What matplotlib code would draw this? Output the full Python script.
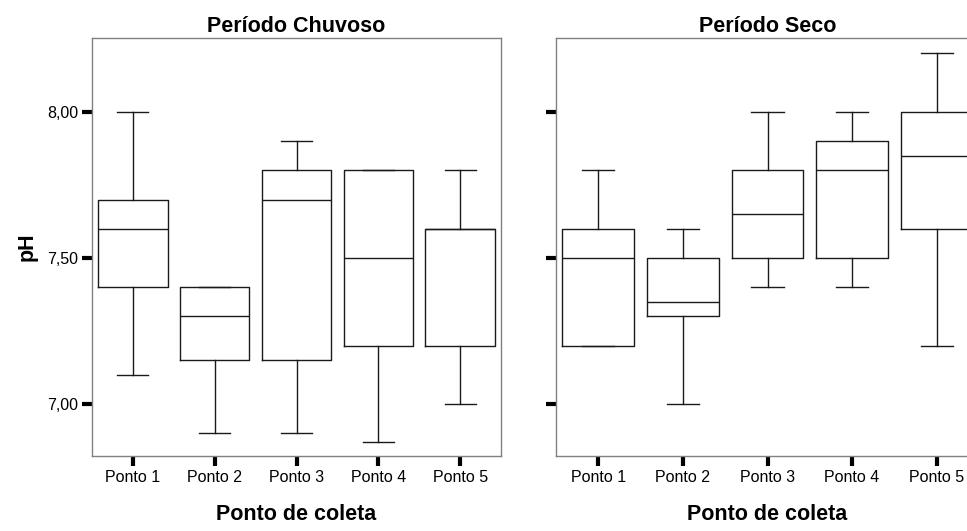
import matplotlib
matplotlib.use('Agg')
import matplotlib.pyplot as plt

plt.rcParams['font.family'] = ['Liberation Sans', 'DejaVu Sans']

# Data
pontos = ['Ponto 1', 'Ponto 2', 'Ponto 3', 'Ponto 4', 'Ponto 5']

# Periodo Chuvoso
chuv_whishi = [8.00, 7.40, 7.90, 7.80, 7.80]
chuv_q3 = [7.70, 7.40, 7.80, 7.80, 7.60]
chuv_med = [7.60, 7.30, 7.70, 7.50, 7.60]
chuv_q1 = [7.40, 7.15, 7.15, 7.20, 7.20]
chuv_whislo = [7.10, 6.90, 6.90, 6.87, 7.00]

# Periodo Seco
seco_whishi = [7.80, 7.60, 8.00, 8.00, 8.20]
seco_q3 = [7.60, 7.50, 7.80, 7.90, 8.00]
seco_med = [7.50, 7.35, 7.65, 7.80, 7.85]
seco_q1 = [7.20, 7.30, 7.50, 7.50, 7.60]
seco_whislo = [7.20, 7.00, 7.40, 7.40, 7.20]

yticks = [7.0, 7.5, 8.0]
yticklabels = ['7,00', '7,50', '8,00']


def make_stats(whislo, q1, med, q3, whishi):
    stats = []
    for i in range(len(med)):
        stats.append(dict(whislo=whislo[i], q1=q1[i], med=med[i],
                          q3=q3[i], whishi=whishi[i], fliers=[]))
    return stats


W, H = 967, 531
fig = plt.figure(figsize=(W/100, H/100), dpi=100)
ax1 = fig.add_axes([92/W, (H-456)/H, 409/W, 418/H])
ax2 = fig.add_axes([556/W, (H-456)/H, 423/W, 418/H])

line = dict(color='#1a1a1a', linewidth=1.0)
panels = [
    (ax1, make_stats(chuv_whislo, chuv_q1, chuv_med, chuv_q3, chuv_whishi), 'Período Chuvoso'),
    (ax2, make_stats(seco_whislo, seco_q1, seco_med, seco_q3, seco_whishi), 'Período Seco'),
]
for ax, stats, title in panels:
    ax.bxp(stats, positions=range(1, 6), widths=0.85, capwidths=0.38,
           showfliers=False, boxprops=line, whiskerprops=line,
           capprops=line, medianprops=line)
    ax.set_xlim(0.5, 5.5)
    ax.set_ylim(6.822, 8.253)
    ax.set_xticks(range(1, 6))
    ax.set_xticklabels(pontos, fontsize=11.5)
    ax.set_yticks(yticks)
    ax.tick_params(length=7, width=3, color='black', pad=3)
    for s in ax.spines.values():
        s.set_color('#808080')
        s.set_linewidth(1.0)
    ax.set_title(title, fontsize=15.5, fontweight='bold', pad=4)
    ax.set_xlabel('Ponto de coleta', fontsize=15.5, fontweight='bold', labelpad=14)

ax1.set_yticklabels(yticklabels, fontsize=11.5)
ax2.set_yticklabels([])
ax1.set_ylabel('pH', fontsize=15.5, fontweight='bold', labelpad=7)

fig.savefig('out.png', dpi=100)
